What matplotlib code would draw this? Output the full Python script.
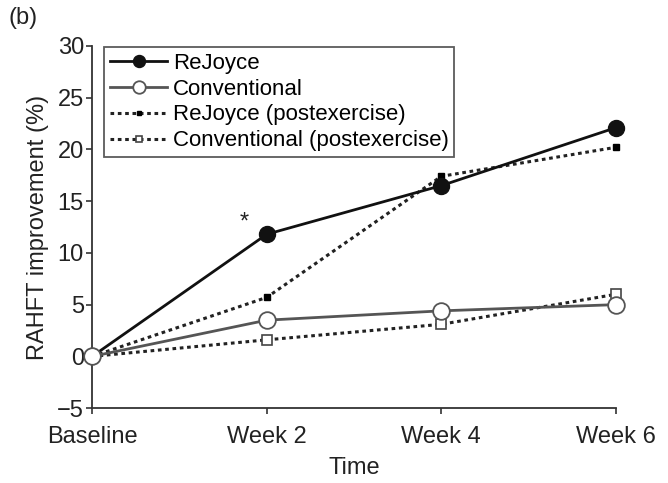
import matplotlib
matplotlib.use("Agg")
import matplotlib.pyplot as plt

plt.rcParams['font.family'] = ['Liberation Sans', 'DejaVu Sans']

categories = ["Baseline", "Week 2", "Week 4", "Week 6"]
rejoyce = [0, 11.8, 16.5, 22.1]
conventional = [0, 3.5, 4.4, 5.0]
rejoyce_post = [0, 5.7, 17.4, 20.2]
conventional_post = [0, 1.6, 3.1, 6.0]
yticks = [-5, 0, 5, 10, 15, 20, 25, 30]

fig = plt.figure(figsize=(6.68, 4.83), dpi=100)
ax = fig.add_axes([0.138, 0.155, 0.784, 0.75])
x = list(range(len(categories)))

dot = (0, (1.2, 1.2))
ax.plot(x, rejoyce_post, linestyle=dot, color='#222222', lw=2.2, marker='s',
        ms=4.5, mfc='black', mec='black', label='ReJoyce (postexercise)', clip_on=False, zorder=3)
ax.plot(x, conventional_post, linestyle=dot, color='#222222', lw=2.2, marker='s',
        ms=6.5, mfc='white', mec='#444444', mew=1.2, label='Conventional (postexercise)', clip_on=False, zorder=3)
ax.plot(x, rejoyce, '-', color='#111111', lw=2, marker='o', ms=11.5,
        mfc='#111111', mec='#111111', label='ReJoyce', clip_on=False, zorder=4)
ax.plot(x, conventional, '-', color='#555555', lw=2, marker='o', ms=12,
        mfc='white', mec='#555555', mew=1.3, label='Conventional', clip_on=False, zorder=5)

ax.text(0.87, 12.9, '*', fontsize=17, ha='center', va='center', color='#222222')

ax.set_xlim(0, 3)
ax.set_ylim(-5, 30)
ax.set_yticks(yticks)
ax.set_yticklabels(['\u22125' if v < 0 else str(v) for v in yticks])
ax.set_xticks(x)
ax.set_xticklabels(categories)
for s in ['top', 'right']:
    ax.spines[s].set_visible(False)
for s in ['left', 'bottom']:
    ax.spines[s].set_linewidth(1.3)
    ax.spines[s].set_color('#333333')
ax.tick_params(direction='out', length=4, width=1.2, labelsize=17,
               colors='#333333', labelcolor='#222222')
ax.tick_params(axis='x', pad=9)
ax.tick_params(axis='y', pad=2)
ax.set_xlabel('Time', fontsize=17, color='#222222', labelpad=6)
ax.set_ylabel('RAHFT improvement (%)', fontsize=17, color='#222222', labelpad=6)

handles, labels = ax.get_legend_handles_labels()
order = [2, 3, 0, 1]
leg = ax.legend([handles[i] for i in order], [labels[i] for i in order],
                loc='upper left', bbox_to_anchor=(0.01, 1.015), fontsize=16,
                frameon=True, fancybox=False, edgecolor='#333333', handlelength=2.6,
                borderpad=0.25, labelspacing=0.22, handletextpad=0.25, borderaxespad=0.3,
                markerscale=0.75)
leg.get_frame().set_linewidth(1.3)

fig.text(0.012, 0.962, '(b)', fontsize=17, color='#222222', va='center')

fig.savefig('out.png', dpi=100)
